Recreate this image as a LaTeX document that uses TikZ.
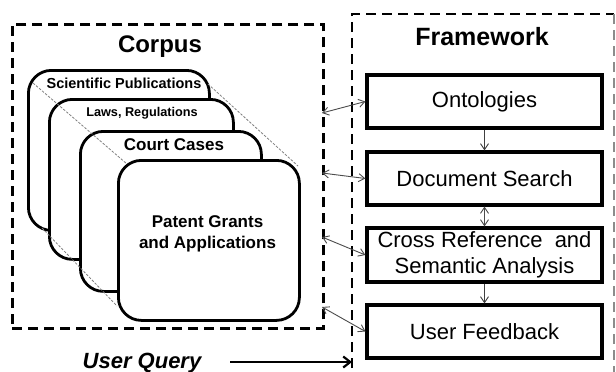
\documentclass[tikz,border=0pt]{standalone}
\usepackage{fontspec}
\setmainfont{Liberation Sans}
\usetikzlibrary{arrows.meta}

\begin{document}
\begin{tikzpicture}[x=1pt,y=-1pt,
  region/.style={draw, line width=2.8pt, dash pattern=on 10pt off 6pt},
  card/.style={draw, line width=2.8pt, fill=white, rounded corners=23pt,
    minimum width=181pt, minimum height=160pt, anchor=north west, inner sep=0pt},
  cardtext/.style={font=\bfseries\fontsize{#1}{#1}\selectfont, align=center},
  title/.style={font=\bfseries\fontsize{24}{28}\selectfont},
  fbox/.style={draw, line width=3.2pt, minimum width=235pt, minimum height=53pt,
    inner sep=0pt, align=center, font=\fontsize{22}{26}\selectfont},
  guide/.style={draw, gray, line width=0.8pt, dash pattern=on 2.5pt off 1.5pt},
  link/.style={draw, black!70, line width=0.9pt,
    arrows={Straight Barb[length=6pt,width=8pt]-Straight Barb[length=6pt,width=8pt]}},
  flow/.style={draw, black!75, line width=0.9pt,
    -{Straight Barb[length=6pt,width=8pt]}},
  query/.style={draw, line width=2.2pt, -{Straight Barb[length=7pt,width=11pt]}}
]
\clip (0,0) rectangle (616,372);
\fill[white] (0,0) rectangle (616,372);

% corpus region
\node[region, minimum width=311pt, minimum height=304pt, anchor=north west,
  inner sep=0pt] (corpus) at (11,23) {};
\node[title] (corpustitle) at (160,47) {Corpus};

% stacked document cards
\node[card] (c1) at (27,69) {};
\node[cardtext=14.5] (t1) at (124,83) {Scientific Publications};
\node[card, minimum width=184pt] (c2) at (48,98) {};
\node[cardtext=12.7] (t2) at (142,113) {Laws, Regulations};
\node[card] (c3) at (79,130) {};
\node[cardtext=17] (t3) at (174,145) {Court Cases};

% depth guides through the stack
\coordinate (g1a) at (33,83);  \coordinate (g1b) at (127,164);
\coordinate (g2a) at (208,84); \coordinate (g2b) at (298,166);
\coordinate (g3a) at (42,228); \coordinate (g3b) at (117,306);
\draw[guide] (g1a) -- (g1b);
\draw[guide] (g2a) -- (g2b);
\draw[guide] (g3a) -- (g3b);

\node[card] (c4) at (117,159) {};
\node[cardtext=17] (t4) at (207.5,233.5) {Patent Grants\\[4pt]and Applications};

% framework region
\draw[line width=2.8pt, dash pattern=on 10pt off 6pt] (352,400) -- (352,14) -- (614,14);
\draw[line width=2.8pt, black!45, dash pattern=on 10pt off 6pt] (614,14) -- (614,400);
\node[title, font=\bfseries\fontsize{25}{28}\selectfont] (fwtitle) at (482,37) {Framework};

\node[fbox] (onto) at (484.5,101.5) {Ontologies};
\node[fbox] (docs) at (484.5,178.5) {Document Search};
\node[fbox, minimum height=54pt] (cross) at (484.5,255) {Cross Reference \ and\\Semantic Analysis};
\node[fbox] (fb) at (484.5,331.5) {User Feedback};

\draw[flow] (onto.south) -- (docs.north);
\draw[link] (docs.south) -- (cross.north);
\draw[flow] (cross.south) -- (fb.north);

% links between corpus and framework
\coordinate (e1) at (322,113);
\coordinate (e2) at (322,173);
\coordinate (e3) at (322,237);
\coordinate (e4) at (322,307);
\draw[link] (e1) -- (onto.west);
\draw[link] (e2) -- (docs.west);
\draw[link] (e3) -- (cross.west);
\draw[link] (e4) -- (fb.west);

% user query
\node[font=\bfseries\itshape\fontsize{22}{24}\selectfont, anchor=base] (uq) at (142,368) {User Query};
\coordinate (qs) at (230,362);
\coordinate (qe) at (352,362);
\draw[query] (qs) -- (qe);
\end{tikzpicture}
\end{document}
